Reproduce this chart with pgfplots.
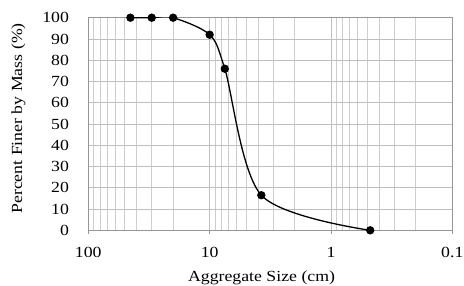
\documentclass[border=0pt]{standalone}
\usepackage{fontspec}
\setmainfont{Liberation Serif}[FakeStretch=1.15]
\usepackage{pgfplots}
\pgfplotsset{compat=1.18}
\definecolor{gridmaj}{RGB}{190,190,190}
\definecolor{gridmin}{RGB}{205,205,205}
\definecolor{axcol}{RGB}{150,150,150}
\begin{document}
\begin{tikzpicture}
\begin{axis}[
  at={(0,0)}, anchor=south west,
  scale only axis,
  width=364bp, height=212.6bp,
  xmode=log, x dir=reverse,
  xmin=0.1, xmax=100, ymin=0, ymax=100,
  xtick={0.1,1,10,100}, xticklabels={0.1,1,10,100},
  ytick={0,10,...,100},
  /pgf/number format/assume math mode=true,
  font=\fontsize{15.5}{17}\selectfont,
  grid=both,
  major grid style={draw=gridmaj, line width=0.8bp},
  minor grid style={draw=gridmin, line width=0.8bp},
  axis line style={draw=axcol, line width=0.8bp},
  tick style={draw=axcol, line width=0.8bp},
  tick align=outside,
  major tick length=3.5bp,
  minor tick length=0pt,
  ytick style={draw=none},
  xtick pos=bottom, ytick pos=left,
  yticklabel style={anchor=east, inner sep=0pt, xshift=-15.6bp},
  xticklabel style={anchor=north, inner sep=0pt, yshift=-13bp},
  xlabel={Aggregate Size (cm)},
  ylabel={Percent Finer by Mass (\%)},
  xlabel style={at={(axis description cs:0.476,-0.2408)}, anchor=base, inner sep=0pt},
  ylabel style={at={(axis description cs:-0.1821,0.526)}, rotate=0, anchor=base, inner sep=0pt},
]
\addplot[black, line width=1.3bp, smooth, tension=0.5, mark=*, mark size=3.5bp, mark options={fill=black}]
  coordinates {(45,100) (30,100) (20,100) (10,92) (7.5,76) (3.75,16.5) (0.475,0)};
\end{axis}
\pgfresetboundingbox
\path (-88.3bp,-55.7bp) rectangle (375.7bp,230.3bp);
\end{tikzpicture}
\end{document}
